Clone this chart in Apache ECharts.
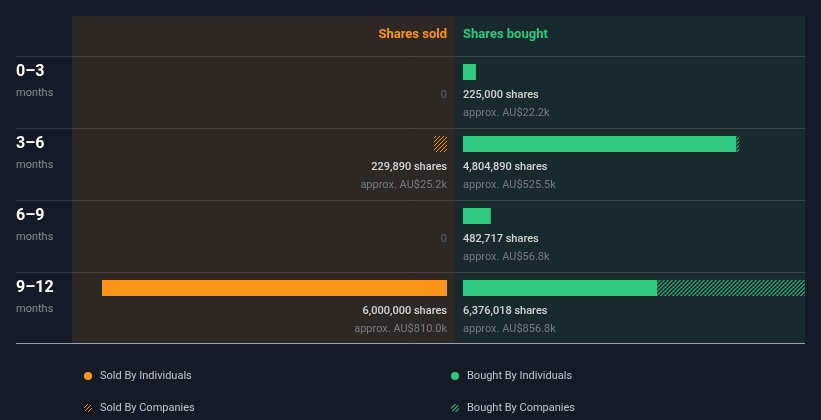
<!DOCTYPE html>
<html>
<head>
<meta charset="utf-8">
<script src="https://cdn.jsdelivr.net/npm/echarts@6/dist/echarts.min.js"></script>
<style>
html,body{margin:0;padding:0;background:#151b26;}
#chart{width:821px;height:420px;}
</style>
</head>
<body>
<div id="chart"></div>
<script>
// ---- data ----
const categories = ['0–3', '3–6', '6–9', '9–12'];
const soldInd = [0, 0, 0, 6000000];
const soldCo = [0, 229890, 0, 0];
const boughtInd = [225000, 4750000, 482717, 3376018];
const boughtCo = [0, 54890, 0, 3000000];
const soldValueK = [0, 25.2, 0, 810.0];
const boughtValueK = [22.2, 525.5, 56.8, 856.8];
const seriesNames = ['Sold By Individuals', 'Sold By Companies', 'Bought By Individuals', 'Bought By Companies'];

// ---- style ----
const ORANGE = '#fd9418';
const GREEN = '#2dca7f';
const FONT = 'Roboto';

function hatch(color, thick) {
  const c = document.createElement('canvas');
  c.width = 4; c.height = 4;
  const g = c.getContext('2d');
  g.fillStyle = color;
  for (let x = 0; x < 4; x++) {
    for (let t = 0; t < thick; t++) {
      g.fillRect((x + t) % 4, 3 - x, 1, 1);
    }
  }
  return {image: c, repeat: 'repeat'};
}

const soldTot = soldInd.map((v, i) => v + soldCo[i]);
const boughtTot = boughtInd.map((v, i) => v + boughtCo[i]);
const fmt = n => n.toLocaleString('en-US');

// layout
const LEFT_X0 = 72, LEFT_X1 = 447, RIGHT_X0 = 463, RIGHT_X1 = 805;
const PX_PER_UNIT = 345 / 6000000;
const leftMax = (LEFT_X1 - LEFT_X0) / PX_PER_UNIT;
const rightMax = (RIGHT_X1 - RIGHT_X0) / PX_PER_UNIT;

function labelText(tot, valK) {
  if (tot > 0) return '{s|' + fmt(tot) + ' shares}\n{a|approx. AU$' + valK.toFixed(1) + 'k}';
  return '{z|0}\n{z| }';
}
const richLbl = {
  s: {color: '#ffffff', fontSize: 11, fontFamily: FONT, lineHeight: 18, fontWeight: 500},
  a: {color: '#8b9096', fontSize: 11, fontFamily: FONT, lineHeight: 18},
  z: {color: '#6b7075', fontSize: 11, fontFamily: FONT, lineHeight: 18}
};

const chart = echarts.init(document.getElementById('chart'));
const sepLines = [56.5, 128.5, 200.5, 272.5].map(y => ({
  type: 'line', z: -1, shape: {x1: 16, y1: y, x2: 805, y2: y},
  style: {stroke: 'rgba(255,255,255,0.12)', lineWidth: 1}
}));

chart.setOption({
  animation: false,
  backgroundColor: '#151b26',
  title: [
    {text: 'Shares sold', right: 821 - LEFT_X1, top: 28, padding: 0,
      textStyle: {color: ORANGE, fontSize: 13, fontWeight: 'bold', fontFamily: FONT}},
    {text: 'Shares bought', left: RIGHT_X0, top: 28, padding: 0,
      textStyle: {color: GREEN, fontSize: 13, fontWeight: 'bold', fontFamily: FONT}}
  ],
  graphic: [
    {type: 'rect', z: -2, shape: {x: 72, y: 16, width: 383, height: 327}, style: {fill: '#2d2823'}},
    {type: 'rect', z: -2, shape: {x: 455, y: 16, width: 350, height: 327}, style: {fill: '#182a2e'}},
    ...sepLines,
    {type: 'line', z: -1, shape: {x1: 16, y1: 343.5, x2: 805, y2: 343.5}, style: {stroke: '#9ba0a6', lineWidth: 1}}
  ],
  legend: [
    {left: 84, top: 370.5, padding: 0, orient: 'vertical', itemGap: 21, itemWidth: 8, itemHeight: 8,
      icon: 'circle', selectedMode: false, data: [seriesNames[0], seriesNames[1]],
      textStyle: {color: '#c3c7cb', fontSize: 11, fontFamily: FONT, padding: [0, 0, 0, 3]}},
    {left: 451, top: 370.5, padding: 0, orient: 'vertical', itemGap: 21, itemWidth: 8, itemHeight: 8,
      icon: 'circle', selectedMode: false, data: [seriesNames[2], seriesNames[3]],
      textStyle: {color: '#c3c7cb', fontSize: 11, fontFamily: FONT, padding: [0, 0, 0, 3]}}
  ],
  grid: [
    {left: LEFT_X0, width: LEFT_X1 - LEFT_X0, top: 36, height: 288},
    {left: RIGHT_X0, width: RIGHT_X1 - RIGHT_X0, top: 36, height: 288}
  ],
  xAxis: [
    {gridIndex: 0, type: 'value', inverse: true, min: 0, max: leftMax, show: false},
    {gridIndex: 1, type: 'value', min: 0, max: rightMax, show: false}
  ],
  yAxis: [
    {gridIndex: 0, type: 'category', inverse: true, data: categories,
      axisLine: {show: false, onZero: false}, axisTick: {show: false}, splitLine: {show: false},
      axisLabel: {show: true, align: 'left', margin: 56,
        formatter: v => '{p| }\n{c|' + v + '}\n{m|months}',
        rich: {
          p: {lineHeight: 21, fontSize: 1},
          c: {color: '#ffffff', fontSize: 16, fontWeight: 'bold', fontFamily: FONT, lineHeight: 22},
          m: {color: '#8b9096', fontSize: 11, fontFamily: FONT, lineHeight: 22}
        }}},
    {gridIndex: 1, type: 'category', inverse: true, data: categories, show: false}
  ],
  series: [
    {name: seriesNames[0], type: 'bar', xAxisIndex: 0, yAxisIndex: 0, stack: 'sold', barWidth: 16,
      itemStyle: {color: ORANGE}, data: soldInd},
    {name: seriesNames[1], type: 'bar', xAxisIndex: 0, yAxisIndex: 0, stack: 'sold', barWidth: 16,
      itemStyle: {color: hatch(ORANGE, 1)}, data: soldCo},
    {name: seriesNames[2], type: 'bar', xAxisIndex: 1, yAxisIndex: 1, stack: 'bought', barWidth: 16,
      itemStyle: {color: GREEN}, data: boughtInd},
    {name: seriesNames[3], type: 'bar', xAxisIndex: 1, yAxisIndex: 1, stack: 'bought', barWidth: 16,
      itemStyle: {color: hatch('#2a9466', 2)}, data: boughtCo},
    {type: 'scatter', xAxisIndex: 0, yAxisIndex: 0, symbolSize: 1, silent: true,
      itemStyle: {color: 'rgba(0,0,0,0)'},
      data: categories.map((c, i) => [0, i]),
      label: {show: true, position: 'inside', offset: [0, 32], align: 'right', verticalAlign: 'middle',
        formatter: p => labelText(soldTot[p.dataIndex], soldValueK[p.dataIndex]), rich: richLbl}},
    {type: 'scatter', xAxisIndex: 1, yAxisIndex: 1, symbolSize: 1, silent: true,
      itemStyle: {color: 'rgba(0,0,0,0)'},
      data: categories.map((c, i) => [0, i]),
      label: {show: true, position: 'inside', offset: [0, 32], align: 'left', verticalAlign: 'middle',
        formatter: p => labelText(boughtTot[p.dataIndex], boughtValueK[p.dataIndex]), rich: richLbl}}
  ]
});
</script>
</body>
</html>
